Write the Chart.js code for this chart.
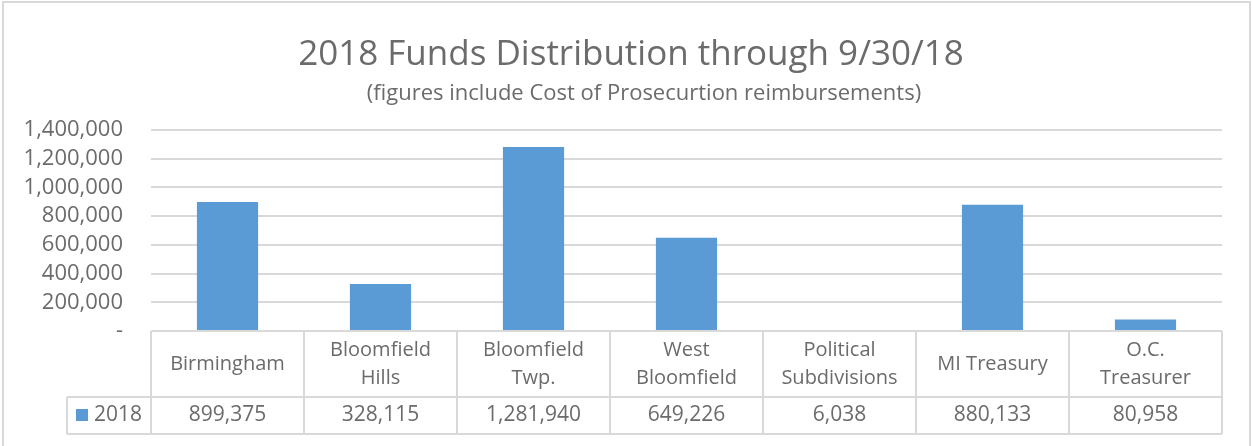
<!DOCTYPE html>
<html>
<head>
<meta charset="utf-8">
<script src="https://cdn.jsdelivr.net/npm/chart.js@4"></script>
<style>
  html, body { margin: 0; padding: 0; background: #fff; }
  #wrap { width: 1252px; height: 446px; position: relative; }
</style>
</head>
<body>
<div id="wrap"><canvas id="chart"></canvas></div>
<script>
const categories = [
	["Birmingham"],
	["Bloomfield", "Hills"],
	["Bloomfield", "Twp."],
	["West", "Bloomfield"],
	["Political", "Subdivisions"],
	["MI Treasury"],
	["O.C.", "Treasurer"],
];
const seriesName = "2018";
const values2018 = [899375, 328115, 1281940, 649226, 6038, 880133, 80958];
const yTicks = [0, 200000, 400000, 600000, 800000, 1000000, 1200000, 1400000];
const titleText = "2018 Funds Distribution through 9/30/18";
const subtitleText = "(figures include Cost of Prosecurtion reimbursements)";

const FONT = "'Open Sans', sans-serif";
const TEXT = "#6b6b6b";
const LINE = "#d9d9d9";
const BAR = "#5b9bd5";

const fmt = (v) => (v === 0 ? "-" : v.toLocaleString("en-US"));

// titles, Excel-style data table under the plot, outer frame
const dataTable = {
	id: "dataTable",
	afterDraw(chart) {
		const c = chart.ctx;
		const x = chart.scales.x;
		const area = chart.chartArea;
		const n = categories.length;
		const colW = (area.right - area.left) / n;
		const top = area.bottom;
		const mid = top + 66;
		const bot = mid + 37;
		const legLeft = 67;

		c.save();
		// outer frame
		c.strokeStyle = LINE;
		c.lineWidth = 2;
		c.strokeRect(3, 2, 1247, 460);

		// titles (Excel centres them a bit right of the plot)
		c.fillStyle = TEXT;
		c.textAlign = "center";
		c.textBaseline = "middle";
		c.font = "35px " + FONT;
		c.fillText(titleText, 631, 55);
		c.font = "22px " + FONT;
		c.fillText(subtitleText, 644, 94);

		c.beginPath();
		c.moveTo(area.left, top);
		c.lineTo(area.right, top);
		c.moveTo(legLeft, mid);
		c.lineTo(area.right, mid);
		c.moveTo(legLeft, bot);
		c.lineTo(area.right, bot);
		c.moveTo(legLeft, mid);
		c.lineTo(legLeft, bot);
		for (let i = 0; i <= n; i++) {
			const xx = area.left + i * colW;
			c.moveTo(xx, top);
			c.lineTo(xx, bot);
		}
		c.stroke();

		categories.forEach((lines, i) => {
			const cx = x.getPixelForValue(i);
			const lh = 28;
			const y0 = (top + mid) / 2 - ((lines.length - 1) * lh) / 2;
			c.font = "20px " + FONT;
			lines.forEach((t, j) => c.fillText(t, cx, y0 + j * lh));
			c.font = "21px " + FONT;
			c.fillText(fmt(values2018[i]), cx, (mid + bot) / 2);
		});

		// legend key
		c.fillStyle = BAR;
		c.fillRect(76, 409, 12, 12);
		c.fillStyle = TEXT;
		c.textAlign = "left";
		c.font = "21px " + FONT;
		c.fillText(seriesName, 94, (mid + bot) / 2);
		c.restore();
	},
};

const ctx = document.getElementById("chart").getContext("2d");
const myChart = new Chart(ctx, {
	type: "bar",
	data: {
		labels: categories,
		datasets: [
			{
				label: seriesName,
				data: values2018,
				backgroundColor: BAR,
				barPercentage: 0.4,
				categoryPercentage: 1,
			},
		],
	},
	options: {
		responsive: true,
		maintainAspectRatio: false,
		animation: false,
		layout: { padding: { top: 130, left: 3, right: 30, bottom: 107 } },
		scales: {
			x: {
				ticks: { display: false },
				grid: { display: false },
				border: { display: false },
			},
			y: {
				min: 0,
				max: 1400000,
				afterFit: (s) => {
					s.width = 148;
				},
				afterBuildTicks: (s) => {
					s.ticks = yTicks.map((v) => ({ value: v }));
				},
				ticks: {
					autoSkip: false,
					padding: 28,
					color: TEXT,
					font: { family: FONT, size: 22 },
					callback: (v) => fmt(v),
				},
				grid: { color: LINE, lineWidth: 2, drawTicks: false },
				border: { display: false },
			},
		},
		plugins: {
			legend: { display: false },
			tooltip: { enabled: false },
		},
	},
	plugins: [dataTable],
});
</script>
</body>
</html>
